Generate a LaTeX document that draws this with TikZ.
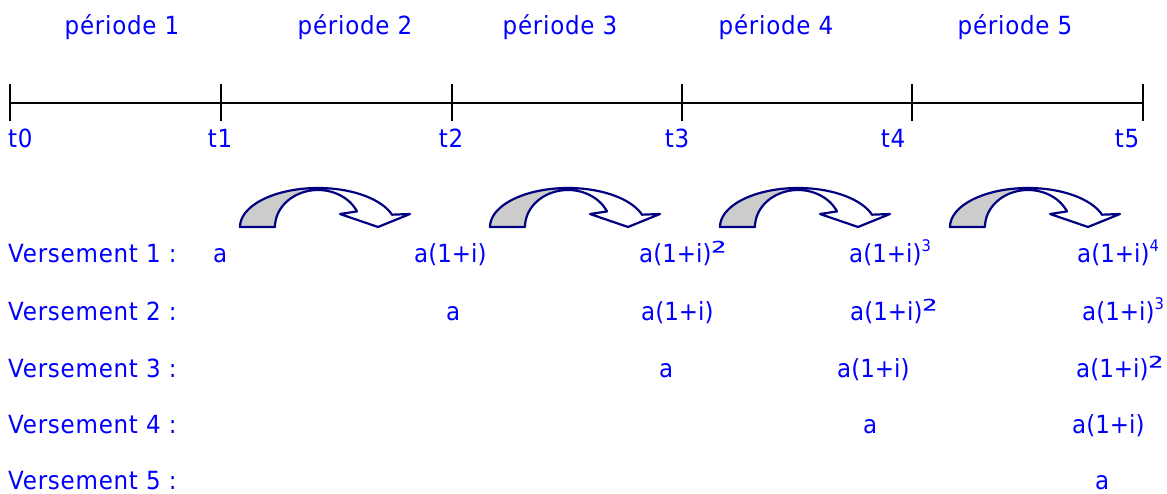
\documentclass[tikz,border=0pt]{standalone}
\usepackage{fontspec}
\usepackage{graphicx}
\setmainfont[FakeStretch=0.92]{DejaVu Sans}
\newfontfamily\espace[FakeStretch=0.92,LetterSpace=3]{DejaVu Sans}
\def\puiss#1{\raisebox{11pt}{\fontsize{16}{16}\selectfont #1}}
\def\carre{\scalebox{1.7}[1.15]{²}}
% fleche courbe grise/blanche, decalee de #1 pt
\def\fleche#1{%
    \begin{scope}[xshift=#1pt]
        \filldraw[courbe,fill=gray!40] plot[domain=180:90,samples=30,variable=\t] ({318+78*cos(\t)},{227-39*sin(\t)})
            -- plot[domain=90:180,samples=30,variable=\t] ({318+43*cos(\t)},{227-37*sin(\t)}) -- cycle;
        \filldraw[courbe,fill=white] plot[domain=90:18.4,samples=30,variable=\t] ({318+78*cos(\t)},{227-39*sin(\t)})
            -- (410,214) -- (378,227) -- (340,214)
            -- plot[domain=24.9:90,samples=30,variable=\t] ({318+43*cos(\t)},{227-37*sin(\t)}) -- cycle;
    \end{scope}}

\begin{document}
\begin{tikzpicture}[x=1pt,y=-1pt]
    \tikzstyle{courbe}=[draw={rgb,255:red,0;green,0;blue,128},line width=2.2pt,line join=round]
    \tikzstyle{etiq}=[text=blue,inner sep=0pt,font=\espace\fontsize{25}{29}\selectfont]
    \tikzstyle{valeur}=[text=blue,inner sep=0pt,anchor=base west,font=\fontsize{25}{29}\selectfont]
    \useasboundingbox (0,0) rectangle (1167,494);

    % periodes
    \node[etiq,anchor=base] (p1) at (122,35) {période 1};
    \node[etiq,anchor=base] (p2) at (355,35) {période 2};
    \node[etiq,anchor=base] (p3) at (560,35) {période 3};
    \node[etiq,anchor=base] (p4) at (776,35) {période 4};
    \node[etiq,anchor=base] (p5) at (1015,35) {période 5};

    % axe du temps
    \coordinate (t0) at (10,103);
    \coordinate (t1) at (221,103);
    \coordinate (t2) at (452,103);
    \coordinate (t3) at (682,103);
    \coordinate (t4) at (912,103);
    \coordinate (t5) at (1143,103);
    \draw[line width=1.6pt] (t0) -- (t5);
    \draw[line width=1.6pt] ([yshift=-18pt]t0) -- ([yshift=19pt]t0);
    \draw[line width=1.6pt] ([yshift=-18pt]t1) -- ([yshift=19pt]t1);
    \draw[line width=1.6pt] ([yshift=-18pt]t2) -- ([yshift=19pt]t2);
    \draw[line width=1.6pt] ([yshift=-18pt]t3) -- ([yshift=19pt]t3);
    \draw[line width=1.6pt] ([yshift=-18pt]t4) -- ([yshift=19pt]t4);
    \draw[line width=1.6pt] ([yshift=-18pt]t5) -- ([yshift=19pt]t5);
    \node[etiq,anchor=base west] (l0) at (8,148) {t0};
    \node[etiq,anchor=base] (l1) at (220,148) {t1};
    \node[etiq,anchor=base] (l2) at (451,148) {t2};
    \node[etiq,anchor=base] (l3) at (677,148) {t3};
    \node[etiq,anchor=base] (l4) at (893,148) {t4};
    \node[etiq,anchor=base] (l5) at (1127,148) {t5};

    % capitalisation
    \fleche{0}
    \fleche{250}
    \fleche{480}
    \fleche{710}

    % versements
    \node[etiq,anchor=base west] (v1) at (8,263) {Versement 1 :};
    \node[etiq,anchor=base west] (v2) at (8,320) {Versement 2 :};
    \node[etiq,anchor=base west] (v3) at (8,377) {Versement 3 :};
    \node[etiq,anchor=base west] (v4) at (8,433) {Versement 4 :};
    \node[etiq,anchor=base west] (v5) at (8,489) {Versement 5 :};

    \node[valeur] (a11) at (213,263) {a};
    \node[valeur] (a12) at (414,263) {a(1+i)};
    \node[valeur] (a13) at (639,263) {a(1+i)\carre};
    \node[valeur] (a14) at (849,263) {a(1+i)\puiss{3}};
    \node[valeur] (a15) at (1077,263) {a(1+i)\puiss{4}};

    \node[valeur] (a22) at (446,320) {a};
    \node[valeur] (a23) at (641,320) {a(1+i)};
    \node[valeur] (a24) at (850,320) {a(1+i)\carre};
    \node[valeur] (a25) at (1082,320) {a(1+i)\puiss{3}};

    \node[valeur] (a33) at (659,377) {a};
    \node[valeur] (a34) at (837,377) {a(1+i)};
    \node[valeur] (a35) at (1076,377) {a(1+i)\carre};

    \node[valeur] (a44) at (863,433) {a};
    \node[valeur] (a45) at (1072,433) {a(1+i)};

    \node[valeur] (a55) at (1095,489) {a};
\end{tikzpicture}
\end{document}
